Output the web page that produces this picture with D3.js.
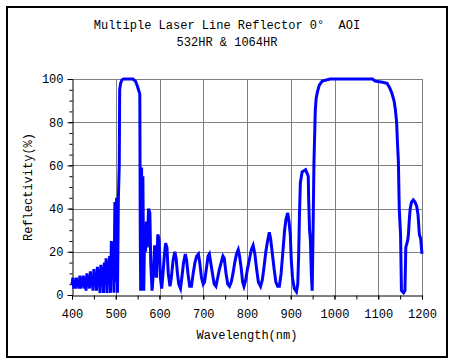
<!DOCTYPE html>
<html>
<head>
<meta charset="utf-8">
<script src="https://cdn.jsdelivr.net/npm/d3@7"></script>
<style>
    body { margin: 0; background: #fff; }
    text { font-family: "Liberation Mono", "DejaVu Sans Mono", monospace; font-size: 12px; fill: #000; white-space: pre; }
</style>
</head>
<body>
<div id="chart"></div>
<script>
var titleLines = ["Multiple Laser Line Reflector 0°  AOI", "532HR & 1064HR"];
var xTicks = [400, 500, 600, 700, 800, 900, 1000, 1100, 1200];
var yTicks = [0, 20, 40, 60, 80, 100];

// wavelength (nm) and reflectivity (%)
var wavelength = [400, 402, 404, 406, 408, 410, 412, 414, 416, 418, 420, 422, 424, 426, 428, 430, 432, 434, 436, 438,
    440, 442, 444, 446, 448, 450, 452, 454, 456, 458, 460, 462, 464, 466, 468, 470, 472, 474, 476, 478,
    480, 482, 484, 486, 488, 490, 492, 494, 496, 498, 500, 502, 504, 506, 508, 509, 511, 514, 518, 539,
    545, 549, 552, 555, 556, 557, 559, 561, 562, 564, 566, 568, 570, 572, 575, 578, 580, 583, 586, 589,
    591, 593, 596, 599, 602, 605, 608, 611, 614, 617, 620, 624, 627, 631, 635, 638, 641, 644, 648, 651,
    655, 659, 662, 665, 669, 673, 677, 681, 685, 689, 692, 696, 700, 703, 707, 711, 714, 717, 721, 725,
    729, 733, 737, 741, 745, 748, 752, 756, 760, 764, 768, 772, 776, 780, 783, 787, 790, 793, 797, 801,
    805, 810, 814, 818, 822, 826, 831, 835, 839, 843, 847, 851, 854, 858, 862, 866, 870, 874, 878, 882,
    886, 889, 893, 896, 899, 901, 904, 908, 913, 916, 918, 920, 922, 926, 934, 940, 941, 943, 945, 947,
    949, 951, 953, 956, 958, 961, 965, 972, 990, 1087, 1093, 1110, 1120, 1126, 1131, 1136, 1139, 1142, 1144, 1146,
    1148, 1151, 1153, 1158, 1161, 1163, 1167, 1169, 1171, 1173, 1176, 1180, 1184, 1188, 1191, 1194, 1197, 1200];
var reflect = [5, 8, 3, 7, 3, 8, 4, 7, 3, 9, 3, 8, 4, 9, 3, 8, 2, 10, 4, 8,
    3, 11, 4, 9, 2, 12, 5, 10, 2, 13, 4, 12, 1, 14, 6, 13, 1, 15, 5, 17,
    1, 16, 7, 18, 1, 25, 10, 24, 1, 43, 6, 45, 1, 45, 60, 95, 98, 99.5, 100, 100,
    99, 97, 95, 93, 30, 2, 59, 3, 55, 2, 30, 20, 34, 22, 40, 38, 15, 2, 10, 23,
    12, 8, 28, 26, 8, 3, 10, 18, 24, 22, 10, 4, 8, 16, 20, 17, 10, 5, 3, 8,
    15, 19, 16, 10, 4, 4, 10, 15, 18, 19, 15, 8, 5, 6, 12, 18, 19, 15, 10, 5,
    4, 8, 12, 15, 18, 17, 10, 5, 4, 6, 10, 15, 19, 21, 18, 12, 6, 4, 7, 12,
    16, 21, 23, 19, 12, 6, 4, 7, 13, 20, 25, 29, 26, 19, 12, 6, 4, 4, 10, 20,
    30, 35, 38, 34, 28, 17, 8, 3, 1.5, 5, 18, 38, 52, 57, 58, 55, 44, 30, 25, 10,
    2, 30, 61, 85, 91, 94, 97, 99, 100, 100, 99, 98.5, 98, 96, 93.5, 90, 86, 80, 70, 62,
    40, 28, 2, 1, 2, 22, 25, 28, 35, 40, 43, 44, 43, 41, 37, 28, 26, 19];

var width = 454,
    height = 363,
    margin = { left: 72, right: 32, top: 79, bottom: 68 };

var svg = d3.select("#chart").append("svg")
    .attr("width", width)
    .attr("height", height);

// outer frame
svg.append("rect")
    .attr("x", 7).attr("y", 7)
    .attr("width", 440).attr("height", 350)
    .attr("fill", "none")
    .attr("stroke", "#000")
    .attr("stroke-width", 2);

svg.selectAll(".title")
    .data(titleLines)
    .enter().append("text")
    .attr("class", "title")
    .attr("x", 227)
    .attr("y", function(d, i) { return 29 + i * 17; })
    .attr("text-anchor", "middle")
    .attr("xml:space", "preserve")
    .text(function(d) { return d; });

var x = d3.scaleLinear().domain([400, 1200]).range([margin.left, width - margin.right]);
var y = d3.scaleLinear().domain([0, 100]).range([height - margin.bottom, margin.top]);

var g = svg.append("g");

// grid
g.selectAll(".vgrid")
    .data(xTicks.slice(1))
    .enter().append("line")
    .attr("x1", function(d) { return Math.round(x(d)) + 0.5; })
    .attr("x2", function(d) { return Math.round(x(d)) + 0.5; })
    .attr("y1", y(0)).attr("y2", y(100))
    .attr("stroke", "#808080");

g.selectAll(".hgrid")
    .data(yTicks.slice(1))
    .enter().append("line")
    .attr("x1", x(400)).attr("x2", x(1200))
    .attr("y1", function(d) { return Math.round(y(d)) + 0.5; })
    .attr("y2", function(d) { return Math.round(y(d)) + 0.5; })
    .attr("stroke", "#808080");

// minor ticks
svg.append("g")
    .attr("transform", "translate(0," + (Math.round(y(0)) + 0.5) + ")")
    .call(d3.axisBottom(x).tickValues(d3.range(400, 1201, 50)).tickSize(4).tickFormat(""))
    .call(function(a) { a.select(".domain").remove(); });
svg.append("g")
    .attr("transform", "translate(" + (Math.round(x(400)) + 0.5) + ",0)")
    .call(d3.axisLeft(y).tickValues(d3.range(0, 101, 5)).tickSize(3).tickFormat(""))
    .call(function(a) { a.select(".domain").remove(); });

var xAxis = svg.append("g")
    .attr("transform", "translate(0," + (Math.round(y(0)) + 0.5) + ")")
    .call(d3.axisBottom(x).tickValues(xTicks).tickFormat(d3.format("d")).tickSize(4).tickSizeOuter(0).tickPadding(10));
var yAxis = svg.append("g")
    .attr("transform", "translate(" + (Math.round(x(400)) + 0.5) + ",0)")
    .call(d3.axisLeft(y).tickValues(yTicks).tickFormat(d3.format("d")).tickSize(5).tickSizeOuter(0).tickPadding(4));

svg.selectAll(".tick text")
    .attr("font-family", null)
    .attr("font-size", null);
svg.selectAll(".domain, .tick line").attr("stroke", "#000");

var points = wavelength.map(function(d, i) { return [d, reflect[i]]; });

var line = d3.line()
    .x(function(d) { return x(d[0]); })
    .y(function(d) { return y(d[1]); });

svg.append("path")
    .datum(points)
    .attr("d", line)
    .attr("fill", "none")
    .attr("stroke", "#0000ff")
    .attr("stroke-width", 3)
    .attr("stroke-linejoin", "miter");

svg.append("text")
    .attr("x", 247)
    .attr("y", 339)
    .attr("text-anchor", "middle")
    .text("Wavelength(nm)");

svg.append("text")
    .attr("transform", "translate(32," + y(50) + ")rotate(-90)")
    .attr("text-anchor", "middle")
    .text("Reflectivity(%)");
</script>
</body>
</html>
